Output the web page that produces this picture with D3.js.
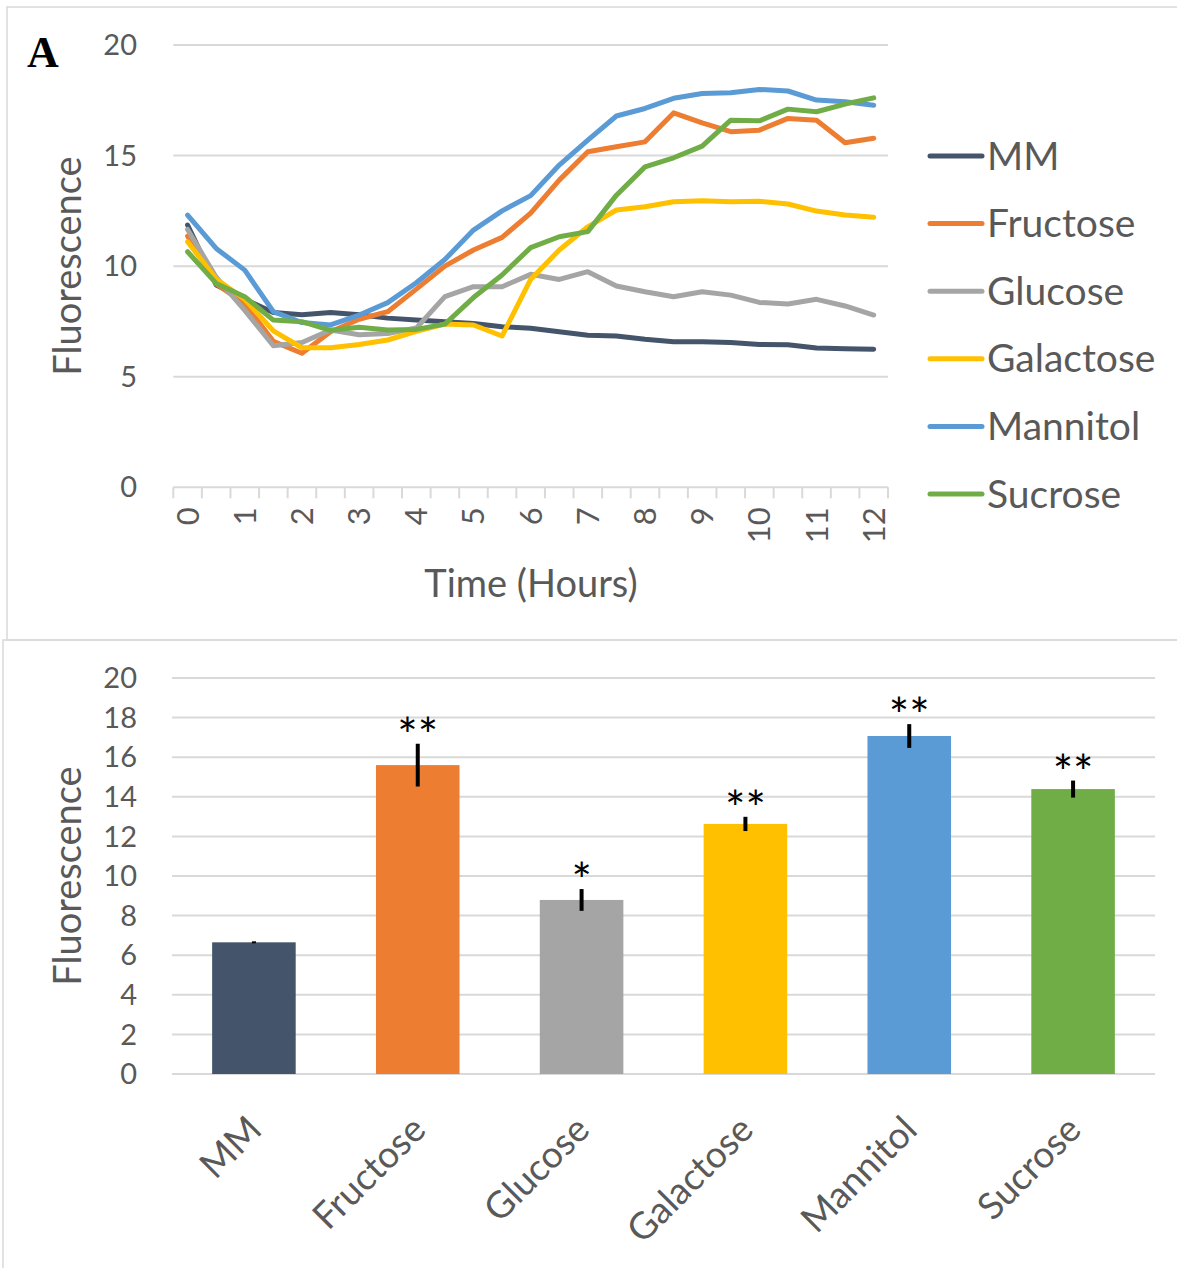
<!DOCTYPE html>
<html>
<head>
<meta charset="utf-8">
<script src="https://cdn.jsdelivr.net/npm/d3@7"></script>
<style>
  html, body { margin: 0; padding: 0; background: #fff; }
  svg { display: block; }
</style>
</head>
<body>
<svg id="chart" width="1177" height="1268" font-family="Lato, 'Open Sans', sans-serif"></svg>
<script>
// ---------- DATA ----------
const times = [0, 0.5, 1, 1.5, 2, 2.5, 3, 3.5, 4, 4.5, 5, 5.5, 6, 6.5, 7, 7.5, 8, 8.5, 9, 9.5, 10, 10.5, 11, 11.5, 12];
const hourLabels = [0, 1, 2, 3, 4, 5, 6, 7, 8, 9, 10, 11, 12];
const seriesNames = ["MM", "Fructose", "Glucose", "Galactose", "Mannitol", "Sucrose"];
const seriesColors = ["#44546A", "#ED7D31", "#A5A5A5", "#FFC000", "#5B9BD5", "#70AD47"];

const mmValues        = [11.86, 9.15, 8.5, 7.9, 7.8, 7.9, 7.8, 7.65, 7.56, 7.49, 7.41, 7.26, 7.19, 7.03, 6.88, 6.84, 6.69, 6.58, 6.58, 6.55, 6.46, 6.45, 6.3, 6.27, 6.24];
const fructoseValues  = [11.36, 9.2, 8.3, 6.6, 6.06, 7.03, 7.6, 7.94, 8.96, 10.0, 10.73, 11.3, 12.4, 13.89, 15.17, 15.4, 15.62, 16.93, 16.48, 16.08, 16.15, 16.68, 16.6, 15.58, 15.78];
const glucoseValues   = [11.66, 9.5, 8.0, 6.4, 6.55, 7.11, 6.9, 6.95, 7.2, 8.62, 9.07, 9.07, 9.63, 9.4, 9.75, 9.1, 8.84, 8.62, 8.84, 8.69, 8.36, 8.29, 8.5, 8.2, 7.79];
const galactoseValues = [11.1, 9.42, 8.5, 7.07, 6.31, 6.31, 6.46, 6.66, 7.05, 7.38, 7.34, 6.84, 9.4, 10.73, 11.78, 12.54, 12.69, 12.91, 12.96, 12.91, 12.93, 12.81, 12.49, 12.31, 12.21];
const mannitolValues  = [12.31, 10.8, 9.82, 7.94, 7.45, 7.34, 7.79, 8.35, 9.25, 10.3, 11.63, 12.5, 13.19, 14.57, 15.7, 16.79, 17.13, 17.59, 17.81, 17.84, 17.99, 17.92, 17.51, 17.43, 17.28];
const sucroseValues   = [10.65, 9.22, 8.62, 7.56, 7.49, 7.1, 7.24, 7.11, 7.14, 7.38, 8.58, 9.6, 10.84, 11.33, 11.56, 13.21, 14.49, 14.9, 15.43, 16.6, 16.57, 17.1, 16.98, 17.33, 17.61];
const lineValues = [mmValues, fructoseValues, glucoseValues, galactoseValues, mannitolValues, sucroseValues];

const lineYTicks = [0, 5, 10, 15, 20];

const barCategories = ["MM", "Fructose", "Glucose", "Galactose", "Mannitol", "Sucrose"];
const barValues = [6.65, 15.6, 8.79, 12.63, 17.07, 14.39];
const barErrors = [0.05, 1.08, 0.55, 0.36, 0.6, 0.43];
const barStars = ["", "**", "*", "**", "**", "**"];
const barYTicks = [0, 2, 4, 6, 8, 10, 12, 14, 16, 18, 20];

// ---------- SETUP ----------
const svg = d3.select("#chart");
const textColor = "#595959";
const gridColor = "#D9D9D9";

// panel borders
svg.append("rect").attr("x", 7).attr("y", 7).attr("width", 1200).attr("height", 633)
  .attr("fill", "none").attr("stroke", gridColor).attr("stroke-width", 1.5);
svg.append("rect").attr("x", 3).attr("y", 640).attr("width", 1200).attr("height", 640)
  .attr("fill", "none").attr("stroke", gridColor).attr("stroke-width", 1.5);

// ---------- TOP LINE CHART ----------
const xBand = d3.scaleBand().domain(times).range([173.3, 888]).paddingInner(0).paddingOuter(0);
const xPt = t => xBand(t) + xBand.bandwidth() / 2;
const yTop = d3.scaleLinear().domain([0, 20]).range([487.3, 45]);

const topG = svg.append("g");

// gridlines
topG.selectAll("line.grid").data(lineYTicks.filter(d => d > 0)).join("line")
  .attr("x1", 173.3).attr("x2", 888)
  .attr("y1", d => yTop(d)).attr("y2", d => yTop(d))
  .attr("stroke", gridColor).attr("stroke-width", 2);

// x axis line + ticks
topG.append("line").attr("x1", 173.3).attr("x2", 888).attr("y1", yTop(0)).attr("y2", yTop(0))
  .attr("stroke", gridColor).attr("stroke-width", 2);
const tickPos = times.map(t => xBand(t)).concat([xBand.range()[1]]);
topG.selectAll("line.xtick").data(tickPos).join("line")
  .attr("x1", d => d).attr("x2", d => d)
  .attr("y1", yTop(0)).attr("y2", yTop(0) + 11)
  .attr("stroke", gridColor).attr("stroke-width", 2);

// y tick labels
topG.selectAll("text.ytick").data(lineYTicks).join("text")
  .attr("x", 137).attr("y", d => yTop(d))
  .attr("dy", "0.35em").attr("text-anchor", "end")
  .attr("font-size", 29).attr("fill", textColor).text(d => d);

// x tick labels (rotated)
topG.selectAll("text.xtick").data(hourLabels).join("text")
  .attr("transform", d => `translate(${xPt(d) + 11},${yTop(0) + 20}) rotate(-90)`)
  .attr("text-anchor", "end")
  .attr("font-size", 31).attr("fill", textColor).text(d => d);

// axis titles
topG.append("text").attr("x", 531).attr("y", 597).attr("text-anchor", "middle")
  .attr("font-size", 38).attr("fill", textColor).text("Time (Hours)");
topG.append("text").attr("transform", `translate(81,266) rotate(-90)`).attr("text-anchor", "middle")
  .attr("font-size", 38).attr("fill", textColor).text("Fluorescence");

// panel label
svg.append("text").attr("x", 27).attr("y", 67)
  .attr("font-family", "'Liberation Serif', 'Times New Roman', serif")
  .attr("font-weight", "bold").attr("font-size", 44).attr("fill", "#000").text("A");

// lines
const lineGen = d3.line().x((d, i) => xPt(times[i])).y(d => yTop(d));
topG.selectAll("path.series").data(lineValues).join("path")
  .attr("d", d => lineGen(d))
  .attr("fill", "none")
  .attr("stroke", (d, i) => seriesColors[i])
  .attr("stroke-width", 5)
  .attr("stroke-linejoin", "round").attr("stroke-linecap", "round");

// legend
const legend = topG.append("g");
const legY = d3.scalePoint().domain(seriesNames).range([156, 494]);
seriesNames.forEach((n, i) => {
  legend.append("line").attr("x1", 930).attr("x2", 982)
    .attr("y1", legY(n)).attr("y2", legY(n))
    .attr("stroke", seriesColors[i]).attr("stroke-width", 5).attr("stroke-linecap", "round");
  legend.append("text").attr("x", 987).attr("y", legY(n)).attr("dy", "0.35em")
    .attr("font-size", 39).attr("fill", textColor).text(n);
});

// ---------- BOTTOM BAR CHART ----------
const xb = d3.scaleBand().domain(barCategories).range([172, 1155]).paddingInner(0.49).paddingOuter(0.245);
const yb = d3.scaleLinear().domain([0, 20]).range([1074, 678]);
const botG = svg.append("g");

botG.selectAll("line.grid").data(barYTicks).join("line")
  .attr("x1", 172).attr("x2", 1155)
  .attr("y1", d => yb(d)).attr("y2", d => yb(d))
  .attr("stroke", gridColor).attr("stroke-width", 2);

botG.selectAll("text.ytick").data(barYTicks).join("text")
  .attr("x", 137).attr("y", d => yb(d)).attr("dy", "0.35em").attr("text-anchor", "end")
  .attr("font-size", 29).attr("fill", textColor).text(d => d);

botG.append("text").attr("transform", `translate(81,876) rotate(-90)`).attr("text-anchor", "middle")
  .attr("font-size", 38).attr("fill", textColor).text("Fluorescence");

botG.selectAll("rect.bar").data(barValues).join("rect")
  .attr("x", (d, i) => xb(barCategories[i]))
  .attr("width", xb.bandwidth())
  .attr("y", d => yb(d))
  .attr("height", d => yb(0) - yb(d))
  .attr("fill", (d, i) => seriesColors[i]);

botG.selectAll("line.err").data(barValues).join("line")
  .attr("x1", (d, i) => xb(barCategories[i]) + xb.bandwidth() / 2)
  .attr("x2", (d, i) => xb(barCategories[i]) + xb.bandwidth() / 2)
  .attr("y1", (d, i) => yb(d + barErrors[i]))
  .attr("y2", (d, i) => yb(d - barErrors[i]))
  .attr("stroke", "#000").attr("stroke-width", 4);

botG.selectAll("text.star").data(barStars).join("text")
  .attr("x", (d, i) => xb(barCategories[i]) + xb.bandwidth() / 2)
  .attr("y", (d, i) => yb(barValues[i] + barErrors[i]) + 9)
  .attr("text-anchor", "middle")
  .attr("font-size", 48).attr("fill", "#000").text(d => d);

botG.selectAll("text.xlab").data(barCategories).join("text")
  .attr("transform", d => `translate(${xb(d) + xb.bandwidth() / 2 + 10},${yb(0) + 58}) rotate(-45)`)
  .attr("text-anchor", "end")
  .attr("font-size", 37).attr("fill", textColor).text(d => d);
</script>
</body>
</html>
